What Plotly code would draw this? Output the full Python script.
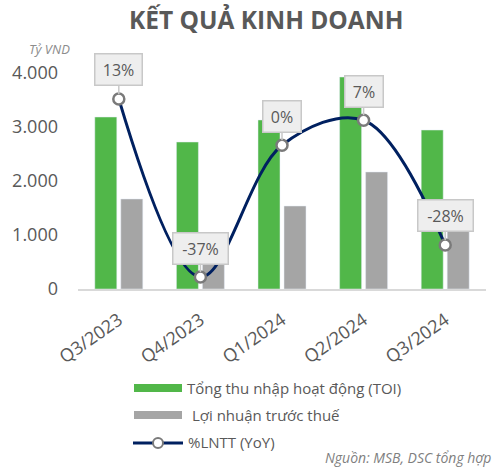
import plotly.graph_objects as go

quarters = ["Q3/2023", "Q4/2023", "Q1/2024", "Q2/2024", "Q3/2024"]
toi = [3185, 2722, 3130, 3926, 2944]
lntt = [1667, 560, 1537, 2167, 1100]
lntt_yoy = [13, -37, 0, 7, -28]
y_ticks = [0, 1000, 2000, 3000, 4000]
y_tick_labels = ["0", "1.000", "2.000", "3.000", "4.000"]

W, H = 494, 468
L, R, T, B = 78, 8, 73, 179
PW, PH = W - L - R, H - T - B


def px(x):
    return (x - L) / PW


def py(y):
    return (H - B - y) / PH


GREEN = "#51b749"
GRAY = "#a5a5a5"
NAVY = "#002060"
TXT = "#595959"
FONT = "Open Sans"

fig = go.Figure()
fig.add_trace(go.Bar(x=quarters, y=toi, name="Tổng thu nhập hoạt động (TOI)",
                     marker=dict(color=GREEN)))
fig.add_trace(go.Bar(x=quarters, y=lntt, name="Lợi nhuận trước thuế",
                     marker=dict(color=GRAY)))
fig.add_trace(go.Scatter(x=quarters, y=lntt_yoy, name="%LNTT (YoY)", yaxis="y2",
                         mode="lines+markers",
                         line=dict(color=NAVY, width=3, shape="spline", smoothing=1.0),
                         marker=dict(size=11, color="white", line=dict(color="#7a7a7a", width=2.5))))

box_w = {2: 29, 3: 38, 4: 46}
annotations = []
for q, v in zip(quarters, lntt_yoy):
    t = f"{v}%"
    annotations.append(dict(
        x=q, y=v, xref="x", yref="y2", text=t, showarrow=True,
        arrowhead=0, arrowwidth=1.5, arrowcolor="#c8c8c8", ax=0, ay=-29, standoff=5,
        bgcolor="#eeeeee", bordercolor="#c8c8c8", borderwidth=1.5, borderpad=4,
        width=box_w[len(t)], height=22,
        font=dict(family=FONT, size=16, color=TXT)))


def label(x, y, text, size, color=TXT, xanchor="center"):
    return dict(x=px(x), y=py(y), xref="paper", yref="paper", xanchor=xanchor,
                yanchor="middle", text=text, showarrow=False,
                font=dict(family=FONT, size=size, color=color))


annotations += [
    label(266, 20, "<b>KẾT QUẢ KINH DOANH</b>", 24.5),
    label(72, 49, "<i>Tỷ VND</i>", 13, "#8c8c8c", "right"),
    label(185, 388, "Tổng thu nhập hoạt động (TOI)", 15, xanchor="left"),
    label(190, 415, "Lợi nhuận trước thuế", 15, xanchor="left"),
    label(186, 442, "%LNTT (YoY)", 15, xanchor="left"),
    label(493, 457, "<i>Nguồn: MSB, DSC tổng hợp</i>", 14, "#7f7f7f", "right"),
]

shapes = [
    dict(type="rect", xref="paper", yref="paper", x0=px(134), x1=px(182), y0=py(392), y1=py(384),
         fillcolor=GREEN, line=dict(width=0)),
    dict(type="rect", xref="paper", yref="paper", x0=px(134), x1=px(182), y0=py(419), y1=py(411),
         fillcolor=GRAY, line=dict(width=0)),
    dict(type="line", xref="paper", yref="paper", x0=px(133), x1=px(183), y0=py(443), y1=py(443),
         line=dict(color=NAVY, width=3)),
    dict(type="circle", xref="paper", yref="paper", x0=px(153), x1=px(163), y0=py(448), y1=py(438),
         fillcolor="white", line=dict(color="#7a7a7a", width=2)),
]

fig.update_layout(
    width=W, height=H, margin=dict(l=L, r=R, t=T, b=B, autoexpand=False),
    paper_bgcolor="white", plot_bgcolor="white",
    barmode="group", bargap=0.363, bargroupgap=0.154,
    showlegend=False,
    font=dict(family=FONT, color=TXT),
    xaxis=dict(showgrid=False, showline=True, linecolor="#d9d9d9", linewidth=1.5,
               tickangle=-35, tickfont=dict(size=18, color=TXT), ticks="",
               ticklabelstandoff=12, automargin=False),
    yaxis=dict(range=[0, 4000], tickvals=y_ticks, ticktext=y_tick_labels, showgrid=False,
               zeroline=False, showline=False, tickfont=dict(size=18, color=TXT), ticks="",
               ticklabelstandoff=19, automargin=False),
    yaxis2=dict(overlaying="y", range=[-40.37, 20.27], visible=False),
    annotations=annotations, shapes=shapes,
)

fig.write_html("out.html", post_script="document.body.style.margin='0';",
               config={"displayModeBar": False})
